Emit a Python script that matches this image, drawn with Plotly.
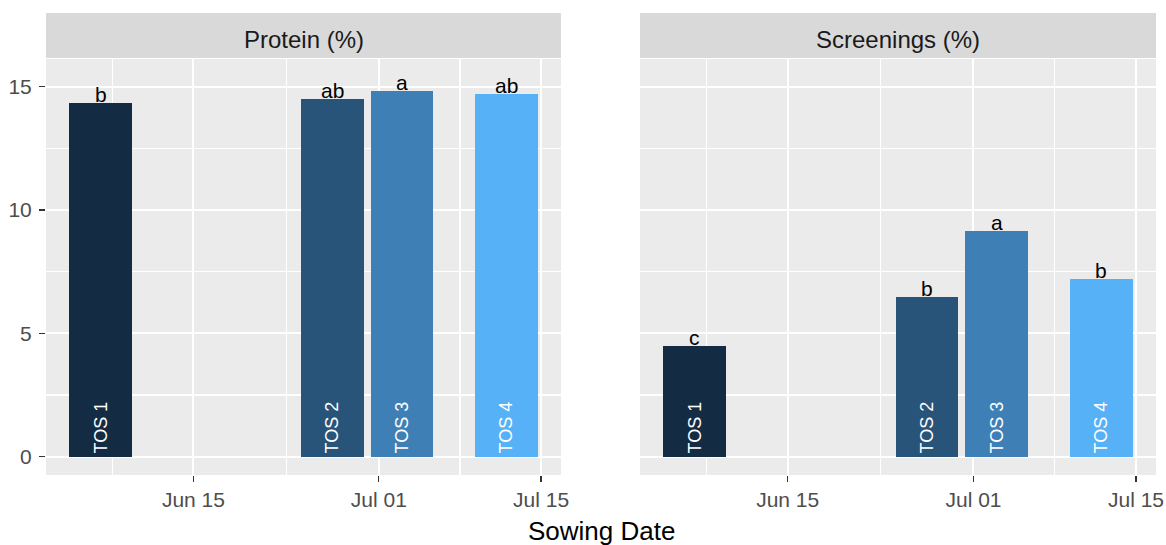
import plotly.graph_objects as go
import pandas as pd

# ---- data ----
tos_labels = ["TOS 1", "TOS 2", "TOS 3", "TOS 4"]
sowing_dates = ["2021-06-07", "2021-06-27", "2021-07-03", "2021-07-12"]
protein = [14.36, 14.51, 14.84, 14.71]
protein_letters = ["b", "ab", "a", "ab"]
screenings = [4.47, 6.49, 9.16, 7.22]
screenings_letters = ["c", "b", "a", "b"]
panel_titles = ["Protein (%)", "Screenings (%)"]
x_tick_vals = ["2021-06-15", "2021-07-01", "2021-07-15"]
x_tick_text = ["Jun 15", "Jul 01", "Jul 15"]
x_minor_vals = ["2021-06-08", "2021-06-23", "2021-07-08"]
y_tick_vals = [0, 5, 10, 15]
y_minor_vals = [2.5, 7.5, 12.5]

# ---- style ----
bar_colors = ["#132B43", "#28547A", "#3E7FB5", "#56B1F7"]
FONT = "Liberation Sans, Arial, Helvetica, sans-serif"
W, H = 1166, 545
panels_px = [(46, 561), (640, 1156)]
panel_top, panel_bot = 59, 475
strip_top, strip_bot = 13, 58

dates = pd.to_datetime(sowing_dates)
day_ms = 86400000
bar_w_days = 0.9 * (dates.to_series().diff().min() / pd.Timedelta(days=1))
lo = dates.min() - pd.Timedelta(days=bar_w_days / 2)
hi = dates.max() + pd.Timedelta(days=bar_w_days / 2)
pad = (hi - lo) * 0.05
x_range = [lo - pad, hi + pad]
y_range = [-0.75, 16.13]

ydom = [1 - panel_bot / H, 1 - panel_top / H]

fig = go.Figure()
series = [(protein, protein_letters), (screenings, screenings_letters)]
for i, (vals, letters) in enumerate(series):
    xa = "x" if i == 0 else "x2"
    ya = "y" if i == 0 else "y2"
    fig.add_trace(go.Bar(
        x=dates, y=vals, width=[bar_w_days * day_ms] * len(vals),
        marker=dict(color=bar_colors, line=dict(width=0)),
        text=tos_labels, textposition="inside", insidetextanchor="start",
        textangle=-90, constraintext="none",
        insidetextfont=dict(color="white", size=18, family=FONT),
        xaxis=xa, yaxis=ya, showlegend=False, hoverinfo="skip",
    ))
    for d, v, t in zip(dates, vals, letters):
        fig.add_annotation(x=d, y=v, xref=xa, yref=ya, text=t, showarrow=False,
                           yanchor="bottom", xanchor="center", yshift=-5,
                           font=dict(size=21, color="black", family=FONT))

axis_common = dict(
    showgrid=True, gridcolor="white", gridwidth=2, zeroline=False,
    showline=False, ticklen=6, tickcolor="#333333",
    tickwidth=1.2, tickfont=dict(size=21, color="#4D4D4D", family=FONT),
)

for i, (x0, x1) in enumerate(panels_px):
    sfx = "" if i == 0 else "2"
    fig.update_layout(**{
        "xaxis" + sfx: dict(
            domain=[x0 / W, x1 / W], type="date", range=x_range,
            tickmode="array", tickvals=x_tick_vals, ticktext=x_tick_text,
            ticks="outside",
            minor=dict(tickmode="array", tickvals=x_minor_vals, showgrid=True,
                       gridcolor="white", gridwidth=1.2, ticks=""),
            anchor="y" + sfx, automargin=False, **axis_common),
        "yaxis" + sfx: dict(
            domain=ydom, range=y_range, tickmode="array", tickvals=y_tick_vals,
            minor=dict(tickmode="array", tickvals=y_minor_vals, showgrid=True,
                       gridcolor="white", gridwidth=1.2, ticks=""),
            anchor="x" + sfx, automargin=False,
            showticklabels=(i == 0),
            ticks="outside" if i == 0 else "",
            ticklabelstandoff=3,
            **axis_common),
    })
    fig.add_shape(type="rect", xref="paper", yref="paper",
                  x0=x0 / W, x1=x1 / W, y0=1 - strip_bot / H, y1=1 - strip_top / H,
                  fillcolor="#D9D9D9", line=dict(width=0), layer="below")
    fig.add_annotation(xref="paper", yref="paper", x=(x0 + x1) / 2 / W,
                       y=1 - (strip_top + strip_bot) / 2 / H, text=panel_titles[i],
                       showarrow=False, xanchor="center", yanchor="middle",
                       yshift=-4,
                       font=dict(size=24, color="#1A1A1A", family=FONT))

fig.add_annotation(xref="paper", yref="paper",
                   x=(panels_px[0][0] + panels_px[1][1]) / 2 / W, y=0,
                   text="Sowing Date", showarrow=False, xanchor="center",
                   yanchor="bottom", yshift=-3,
                   font=dict(size=26, color="black", family=FONT))

fig.update_layout(
    width=W, height=H, margin=dict(l=0, r=0, t=0, b=0),
    paper_bgcolor="white", plot_bgcolor="#EBEBEB", bargap=0,
    font=dict(family=FONT),
)

fig.write_html(
    "out.html",
    config={"displayModeBar": False, "staticPlot": True},
    post_script="document.body.style.margin='0';document.body.style.overflow='hidden';",
)
